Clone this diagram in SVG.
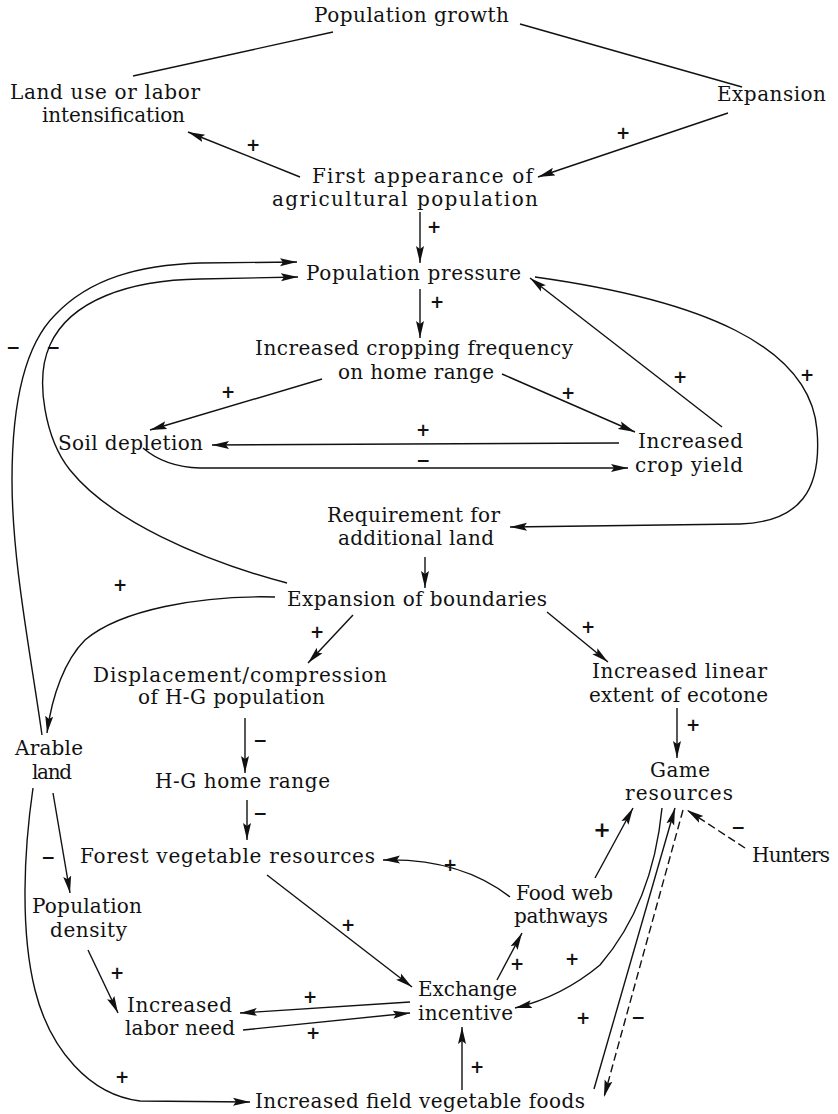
<svg xmlns="http://www.w3.org/2000/svg" width="838" height="1114" viewBox="0 0 838 1114">
<defs>
<marker id="ah" markerUnits="userSpaceOnUse" markerWidth="20" markerHeight="10" refX="17" refY="4.5" orient="auto">
<path d="M0,0.5 L17,4.5 L0,8.5 L3,4.5 z" fill="#111"/>
</marker>
<style>
.t{font-family:"DejaVu Serif","Liberation Serif",serif;font-size:20px;fill:#111}
.s{font-family:"DejaVu Sans","Liberation Sans",sans-serif;font-size:17px;font-weight:bold;fill:#111;text-anchor:middle}
.c{fill:none;stroke:#111;stroke-width:1.4}
.a{marker-end:url(#ah)}
.d{stroke-dasharray:8,4}
</style>
</defs>
<rect width="838" height="1114" fill="#fff"/>
<g id="connectors">
<path class="c" d="M333,32 L133,76"/>
<path class="c" d="M520,24 L742,87"/>
<path class="c a" d="M728,113 L538,177"/>
<path class="c a" d="M300,177 L188,132"/>
<path class="c a" d="M420,212 L420,263"/>
<path class="c a" d="M420,289 L420,338"/>
<path class="c a" d="M322,379 L150,430"/>
<path class="c a" d="M502,374 L635,432"/>
<path class="c a" d="M619,443 L212,445"/>
<path class="c a" d="M143,448 Q165,467 200,468 L628,468"/>
<path class="c a" d="M722,427 L530,278"/>
<path class="c a" d="M535,277 C700,300 810,345 817,430 C822,490 800,522 740,524 L510,527"/>
<path class="c a" d="M425,557 L425,588"/>
<path class="c a" d="M287,583 C200,560 110,520 70,470 C46,440 34,380 50,345 C70,300 130,280 200,279 L298,277"/>
<path class="c a" d="M42,735 C30,650 12,560 12,480 C12,400 25,345 55,315 C90,278 140,265 200,263 L297,262"/>
<path class="c a" d="M275,597 C200,595 120,610 85,640 C65,660 52,695 47,733"/>
<path class="c a" d="M353,615 L308,663"/>
<path class="c a" d="M547,612 L608,662"/>
<path class="c a" d="M677,708 L677,758"/>
<path class="c a" d="M245,718 L245,773"/>
<path class="c a" d="M247,800 L247,840"/>
<path class="c a" d="M53,793 L70,893"/>
<path class="c a" d="M33,788 C24,850 20,930 35,990 C50,1050 90,1095 140,1101 L250,1102"/>
<path class="c a" d="M88,950 L118,1013"/>
<path class="c a" d="M267,875 L412,987"/>
<path class="c a" d="M410,1002 L240,1013"/>
<path class="c a" d="M243,1030 L410,1013"/>
<path class="c a" d="M510,897 Q460,858 383,860"/>
<path class="c a" d="M595,878 L633,808"/>
<path class="c a" d="M497,980 L522,933"/>
<path class="c a" d="M662,808 C655,880 630,930 600,965 C570,990 540,1002 515,1008"/>
<path class="c a" d="M594,1089 L675,808"/>
<path class="c a d" d="M683,810 L604,1097"/>
<path class="c a d" d="M745,848 L687,810"/>
<path class="c a" d="M462,1090 L462,1027"/>
</g>
<g id="signs">
<text class="s" x="253" y="151">+</text>
<text class="s" x="623" y="139">+</text>
<text class="s" x="434" y="233">+</text>
<text class="s" x="437" y="308">+</text>
<text class="s" x="13" y="353">−</text>
<text class="s" x="53" y="353">−</text>
<text class="s" x="228" y="398">+</text>
<text class="s" x="568" y="399">+</text>
<text class="s" x="423" y="436">+</text>
<text class="s" x="423" y="466">−</text>
<text class="s" x="680" y="383">+</text>
<text class="s" x="807" y="381">+</text>
<text class="s" x="120" y="591">+</text>
<text class="s" x="317" y="638">+</text>
<text class="s" x="588" y="633">+</text>
<text class="s" x="260" y="746">−</text>
<text class="s" x="693" y="731">+</text>
<text class="s" x="260" y="819">−</text>
<text class="s" x="48" y="863">−</text>
<text class="s" x="450" y="871">+</text>
<text class="s" x="602" y="837" style="font-size:21px">+</text>
<text class="s" x="738" y="833">−</text>
<text class="s" x="348" y="931">+</text>
<text class="s" x="117" y="979">+</text>
<text class="s" x="517" y="970">+</text>
<text class="s" x="572" y="965">+</text>
<text class="s" x="310" y="1003">+</text>
<text class="s" x="313" y="1039">+</text>
<text class="s" x="583" y="1024">+</text>
<text class="s" x="638" y="1023">−</text>
<text class="s" x="122" y="1083">+</text>
<text class="s" x="477" y="1073">+</text>
</g>
<g id="n-population-growth"><text class="t" x="314" y="22" textLength="195">Population growth</text></g>
<g id="n-land-use"><text class="t" x="10" y="99" textLength="190">Land use or labor</text><text class="t" x="42" y="122" textLength="143">intensification</text></g>
<g id="n-expansion"><text class="t" x="717" y="101" textLength="109">Expansion</text></g>
<g id="n-first-appearance"><text class="t" x="312" y="183" textLength="221">First appearance of</text><text class="t" x="272" y="206" textLength="266">agricultural population</text></g>
<g id="n-population-pressure"><text class="t" x="306" y="280" textLength="215">Population pressure</text></g>
<g id="n-cropping"><text class="t" x="255" y="355" textLength="318">Increased cropping frequency</text><text class="t" x="338" y="379" textLength="156">on home range</text></g>
<g id="n-soil"><text class="t" x="58" y="450" textLength="145">Soil depletion</text></g>
<g id="n-crop-yield"><text class="t" x="638" y="448" textLength="105">Increased</text><text class="t" x="635" y="472" textLength="108">crop yield</text></g>
<g id="n-requirement"><text class="t" x="327" y="522" textLength="173">Requirement for</text><text class="t" x="338" y="545" textLength="156">additional land</text></g>
<g id="n-expansion-boundaries"><text class="t" x="287" y="606" textLength="260">Expansion of boundaries</text></g>
<g id="n-displacement"><text class="t" x="93" y="682" textLength="294">Displacement/compression</text><text class="t" x="138" y="704" textLength="187">of H-G population</text></g>
<g id="n-ecotone"><text class="t" x="592" y="678" textLength="175">Increased linear</text><text class="t" x="589" y="702" textLength="179">extent of ecotone</text></g>
<g id="n-arable"><text class="t" x="15" y="755" textLength="68">Arable</text><text class="t" x="32" y="779" textLength="40">land</text></g>
<g id="n-game"><text class="t" x="650" y="777" textLength="60">Game</text><text class="t" x="625" y="800" textLength="108">resources</text></g>
<g id="n-hg-range"><text class="t" x="155" y="788" textLength="175">H-G home range</text></g>
<g id="n-forest"><text class="t" x="80" y="863" textLength="295">Forest vegetable resources</text></g>
<g id="n-hunters"><text class="t" x="752" y="862" textLength="78">Hunters</text></g>
<g id="n-food-web"><text class="t" x="516" y="900" textLength="97">Food web</text><text class="t" x="514" y="923" textLength="94">pathways</text></g>
<g id="n-pop-density"><text class="t" x="32" y="913" textLength="110">Population</text><text class="t" x="50" y="937" textLength="77">density</text></g>
<g id="n-exchange"><text class="t" x="418" y="996" textLength="99">Exchange</text><text class="t" x="418" y="1020" textLength="95">incentive</text></g>
<g id="n-labor"><text class="t" x="127" y="1012" textLength="105">Increased</text><text class="t" x="125" y="1035" textLength="110">labor need</text></g>
<g id="n-field-veg"><text class="t" x="255" y="1108" textLength="330">Increased field vegetable foods</text></g>
</svg>
